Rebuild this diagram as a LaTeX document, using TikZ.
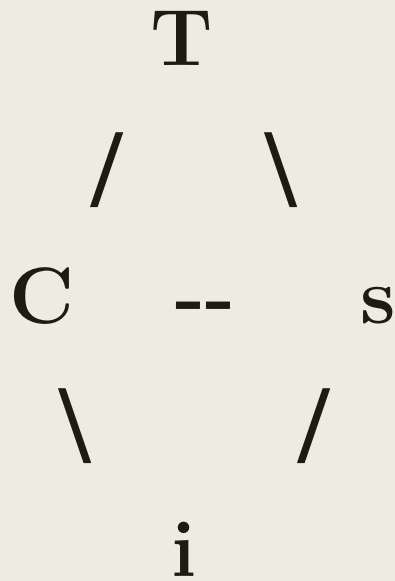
\documentclass[tikz,border=0pt]{standalone}
\usepackage{fontspec}
\newfontfamily\slashfont{Liberation Serif}
\definecolor{paper}{HTML}{EEEBE3}
\definecolor{ink}{HTML}{1C1C10}
\begin{document}
\begin{tikzpicture}[x=1pt, y=-1pt,
  glyph/.style={inner sep=0pt, anchor=base, text=ink,
    font=\fontsize{80}{80}\selectfont\bfseries},
  stroke/.style={inner sep=0pt, anchor=center, text=ink,
    font=\slashfont\fontsize{112}{112}\selectfont\bfseries}
]
\fill[paper] (0,0) rectangle (395,581);
\useasboundingbox (0,0) rectangle (395,581);
\node[glyph] (top) at (182,65) {T};
\node[stroke] (ltop) at (107,170) {/};
\node[stroke] (rtop) at (281,170) {\textbackslash};
\node[glyph] (left) at (42,323) {C};
\node[glyph] (mid) at (205,323) {-{}-};
\node[glyph] (right) at (378,323) {s};
\node[stroke] (lbot) at (75,426) {\textbackslash};
\node[stroke] (rbot) at (314,426) {/};
\node[glyph] (bot) at (184,576) {i};
\end{tikzpicture}
\end{document}
